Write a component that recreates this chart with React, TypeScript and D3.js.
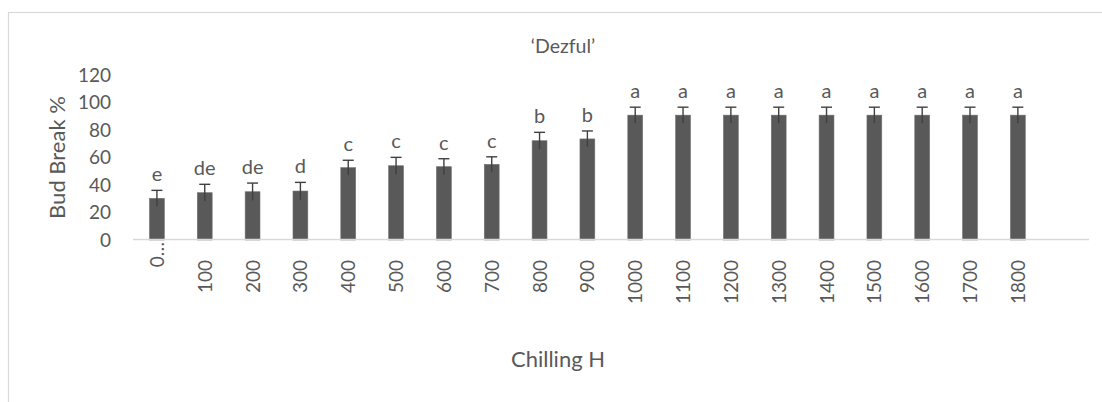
import React from "react";
import * as d3 from "d3";

const categories = ["0…", "100", "200", "300", "400", "500", "600", "700", "800", "900", "1000", "1100", "1200", "1300", "1400", "1500", "1600", "1700", "1800"];
const values = [30.3, 34.4, 35.1, 35.6, 52.6, 54, 53.3, 55, 72.2, 73.5, 90.8, 90.8, 90.8, 90.8, 90.8, 90.8, 90.8, 90.8, 90.8];
const errors = [5.8, 6.1, 6.3, 6.3, 5.4, 6.1, 5.8, 5.5, 6.1, 5.8, 5.8, 5.8, 5.8, 5.8, 5.8, 5.8, 5.8, 5.8, 5.8];
const letters = ["e", "de", "de", "d", "c", "c", "c", "c", "b", "b", "a", "a", "a", "a", "a", "a", "a", "a", "a"];
const yTicks = [0, 20, 40, 60, 80, 100, 120];

const W = 1102;
const H = 402;
const FONT = "Lato, 'Open Sans', sans-serif";
const TXT = "#595959";

export default function App() {
  const x0 = 133;
  const step = 47.83;
  const x = d3
    .scaleBand<string>()
    .domain(categories)
    .range([x0, x0 + step * categories.length])
    .paddingInner(0.69)
    .paddingOuter(0.345);
  const y = d3.scaleLinear().domain([0, 120]).range([240, 75]);
  const bw = x.bandwidth();

  return (
    <svg width={W} height={H} style={{ position: "absolute", left: 0, top: 0 }} fontFamily={FONT}>
      <rect x={0} y={0} width={W} height={H} fill="#fff" />
      <rect x={8.5} y={12.5} width={1300} height={600} fill="none" stroke="#d9d9d9" strokeWidth={1.2} />
      <text x={563} y={53} textAnchor="middle" fontSize={19.5} fill={TXT}>‘Dezful’</text>
      {yTicks.map((t) => (
        <text key={t} x={111} y={y(t)} dy="0.36em" textAnchor="end" fontSize={19} fill={TXT}>
          {t}
        </text>
      ))}
      <text
        transform={`translate(65,157.5) rotate(-90)`}
        textAnchor="middle"
        fontSize={22}
        fill={TXT}
      >
        Bud Break %
      </text>
      {categories.map((c, i) => {
        const bx = x(c)!;
        const cx = bx + bw / 2;
        const top = y(values[i]);
        const eTop = y(values[i] + errors[i]);
        const eBot = y(values[i] - errors[i]);
        return (
          <g key={c}>
            <rect x={bx} y={top} width={bw} height={y(0) - top} fill="#595959" stroke="#6e6e6e" strokeWidth={0.6} />
            <line x1={cx} x2={cx} y1={eTop} y2={eBot} stroke="#404040" strokeWidth={1.4} />
            <line x1={cx - 5.5} x2={cx + 5.5} y1={eTop} y2={eTop} stroke="#404040" strokeWidth={1.4} />
            <text x={cx} y={eTop - 9} textAnchor="middle" fontSize={20} fill={TXT}>
              {letters[i]}
            </text>
          </g>
        );
      })}
      <line x1={x0} x2={1089} y1={239.5} y2={239.5} stroke="#d9d9d9" strokeWidth={1.6} />
      {categories.map((c, i) => {
        const cx = x(c)! + bw / 2;
        const endY = i === 0 ? 242 : 260;
        return (
          <text
            key={"l" + c}
            transform={`translate(${cx + 7},${endY}) rotate(-90)`}
            textAnchor="end"
            fontSize={19}
            fill={TXT}
          >
            {c}
          </text>
        );
      })}
      <text x={558} y={367} textAnchor="middle" fontSize={22} fill={TXT}>Chilling H</text>
    </svg>
  );
}
